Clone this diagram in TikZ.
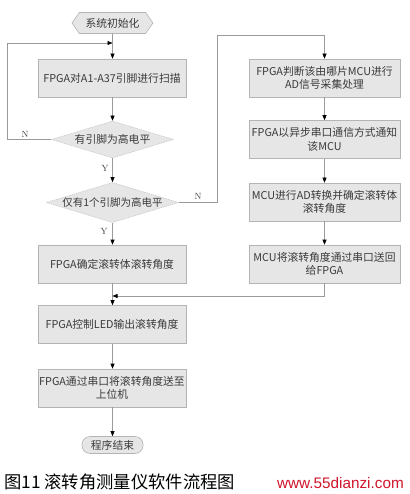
\documentclass[tikz,border=0pt]{standalone}
\usepackage{fontspec}
\newfontfamily\cjk{Noto Sans CJK SC}
\newfontfamily\wmfont{Liberation Sans}
\usetikzlibrary{shapes.symbols,shapes.geometric,arrows.meta}
\definecolor{boxfill}{HTML}{E6E6E6}
\definecolor{boxline}{HTML}{B4B4B4}
\definecolor{conn}{HTML}{9A9A9A}
\definecolor{txt}{HTML}{3A3A3A}
\definecolor{wmred}{HTML}{D0142A}
\begin{document}
\begin{tikzpicture}[x=1pt,y=-1pt,
  base/.style={fill=boxfill,draw=boxline,line width=0.6pt,text=txt,
    font=\cjk\fontsize{10.8}{13.5}\selectfont,inner sep=1pt},
  procbox/.style={base,rectangle,minimum width=148pt,minimum height=38pt,align=center},
  decbox/.style={base,diamond,aspect=3.3,minimum width=122pt,minimum height=37pt,inner sep=0pt,draw=boxline!70,dash pattern=on 1.5pt off 0.8pt},
  startbox/.style={base,signal,signal to=west and east,signal pointer angle=110,minimum width=81pt,minimum height=21pt,inner xsep=4pt},
  endbox/.style={base,rectangle,rounded corners=8pt,minimum width=61pt,minimum height=17pt},
  lbl/.style={text=txt,font=\fontsize{9}{10}\selectfont,inner sep=0pt},
  conline/.style={draw=conn,line width=0.6pt},
  arr/.style={conline,-{Triangle[length=5pt,width=4pt,fill=black,color=black]}}]
\useasboundingbox (0,0) rectangle (409,494);
% left column
\node[startbox] (s) at (112.5,23) {系统初始化};
\node[procbox] (b1) at (112,78) {FPGA对A1-A37引脚进行扫描};
\node[decbox] (d1) at (112.5,139.5) {有引脚为高电平};
\node[decbox,font=\cjk\fontsize{10.5}{13}\selectfont] (d2) at (112.5,202.5) {仅有1个引脚为高电平};
\node[procbox] (b2) at (112,264) {FPGA确定滚转体滚转角度};
\node[procbox] (b3) at (112,324.5) {FPGA控制LED输出滚转角度};
\node[procbox] (b4) at (112,388) {FPGA通过串口将滚转角度送至\\上位机};
\node[endbox] (e) at (112.5,445) {程序结束};
% right column
\node[procbox,minimum width=151pt] (r1) at (324.5,78) {FPGA判断该由哪片MCU进行\\AD信号采集处理};
\node[procbox,minimum width=151pt] (r2) at (324.5,139.5) {FPGA以异步串口通信方式通知\\该MCU};
\node[procbox,minimum width=151pt] (r3) at (324.5,202) {MCU进行AD转换并确定滚转体\\滚转角度};
\node[procbox,minimum width=151pt] (r4) at (324.5,264) {MCU将滚转角度通过串口送回\\给FPGA};
% coordinates
\coordinate (j1) at (112.5,43);
\coordinate (l1) at (7,139.5);
\coordinate (l2) at (7,43);
\coordinate (k1) at (217,202.5);
\coordinate (k2) at (217,35);
\coordinate (k3) at (324.5,35);
\coordinate (m1) at (324.5,296);
\coordinate (m2) at (112.5,296);
% connectors
\draw[conline] (s.south) -- (j1);
\draw[arr] (j1) -- (b1.north -| j1);
\draw[arr] (b1.south -| d1) -- (d1.north);
\draw[arr] (d1.south) -- (d2.north);
\draw[arr] (d2.south) -- (b2.north -| d2);
\draw[conline] (b2.south -| m2) -- (m2);
\draw[arr] (m2) -- (b3.north -| m2);
\draw[arr] (b3.south -| m2) -- (b4.north -| m2);
\draw[arr] (b4.south -| e) -- (e.north);
\draw[conline] (d1.west) -- (l1) -- (l2);
\draw[arr] (l2) -- (j1);
\draw[conline] (d2.east) -- (k1) -- (k2) -- (k3);
\draw[arr] (k3) -- (r1.north);
\draw[arr] (r1.south) -- (r2.north);
\draw[arr] (r2.south) -- (r3.north);
\draw[arr] (r3.south) -- (r4.north);
\draw[conline] (r4.south) -- (m1);
\draw[arr] (m1) -- (m2);
% labels
\node[lbl] (n1) at (25,134) {N};
\node[lbl] (y1) at (105,168) {Y};
\node[lbl] (n2) at (198,196) {N};
\node[lbl] (y2) at (104,231) {Y};
% caption
\node[anchor=west,inner sep=0pt,font=\cjk\fontsize{17.3}{19}\selectfont] (cap) at (4,482) {图11\hspace{4pt}滚转角测量仪软件流程图};
\node[anchor=east,inner sep=0pt,text=wmred,font=\wmfont\fontsize{15.3}{17}\selectfont] (wm) at (404,483) {www.55dianzi.com};
\end{tikzpicture}
\end{document}
